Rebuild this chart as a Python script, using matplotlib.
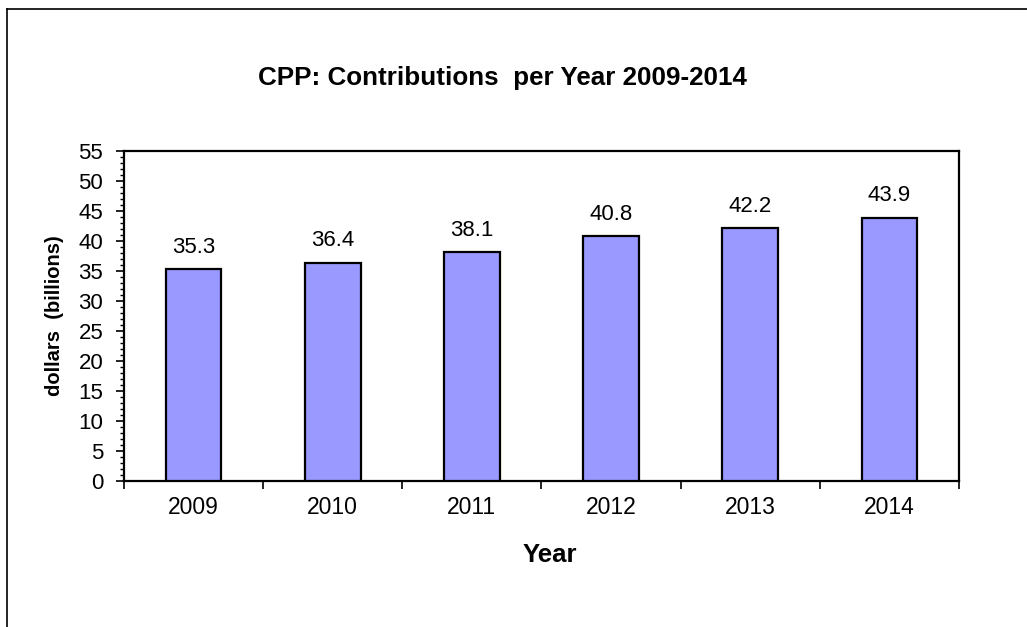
import matplotlib
matplotlib.use("Agg")
import matplotlib.pyplot as plt
from matplotlib.ticker import MultipleLocator, FixedLocator, NullFormatter
from matplotlib.lines import Line2D

years = ["2009", "2010", "2011", "2012", "2013", "2014"]
values = [35.3, 36.4, 38.1, 40.8, 42.2, 43.9]
title = "CPP: Contributions  per Year 2009-2014"
xlabel = "Year"
ylabel = "dollars  (billions)"

plt.rcParams['font.family'] = ['Liberation Sans', 'DejaVu Sans']

fig = plt.figure(figsize=(10.27, 6.27), dpi=100)
fig.patch.set_facecolor("white")

# outer border (left and top only)
fig.add_artist(Line2D([7/1027, 7/1027], [0, 1 - 9/627], transform=fig.transFigure, color="black", lw=1.2))
fig.add_artist(Line2D([7/1027, 1], [1 - 9/627, 1 - 9/627], transform=fig.transFigure, color="black", lw=1.2))

ax = fig.add_axes([124/1027, 1 - 481/627, (959 - 124)/1027, (481 - 151)/627])
x = list(range(len(years)))
bars = ax.bar(x, values, width=0.4, color="#9999FF", edgecolor="black", linewidth=1.6, zorder=3)

for xi, v in zip(x, values):
    ax.annotate(f"{v:.1f}", (xi, v), xytext=(0, 8), textcoords="offset points",
                ha="center", va="bottom", fontsize=16)

ax.set_xlim(-0.5, len(years) - 0.5)
ax.set_ylim(0, 55)
ax.yaxis.set_major_locator(MultipleLocator(5))
ax.yaxis.set_minor_locator(MultipleLocator(1))
ax.xaxis.set_major_locator(FixedLocator([i - 0.5 for i in range(len(years) + 1)]))
ax.xaxis.set_major_formatter(NullFormatter())
ax.xaxis.set_minor_locator(FixedLocator(x))
ax.set_xticklabels(years, minor=True)
ax.tick_params(axis="x", which="major", direction="out", length=6, width=1.2)
ax.tick_params(axis="x", which="minor", length=0, pad=11, labelsize=16.5)
ax.tick_params(axis="y", which="major", direction="out", length=6, width=1.2, labelsize=16, pad=9)
ax.tick_params(axis="y", which="minor", direction="out", length=3, width=1.0)

for s in ax.spines.values():
    s.set_linewidth(1.6)
    s.set_color("black")

fig.text(502/1027, 1 - 78/627, title, ha="center", va="center", fontsize=18.7, fontweight="bold")
fig.text(550/1027, 1 - 555/627, xlabel, ha="center", va="center", fontsize=18.5, fontweight="bold")
fig.text(55/1027, 1 - 316/627, ylabel, ha="center", va="center", rotation=90, fontsize=14.5, fontweight="bold")

fig.savefig("out.png", dpi=100)
